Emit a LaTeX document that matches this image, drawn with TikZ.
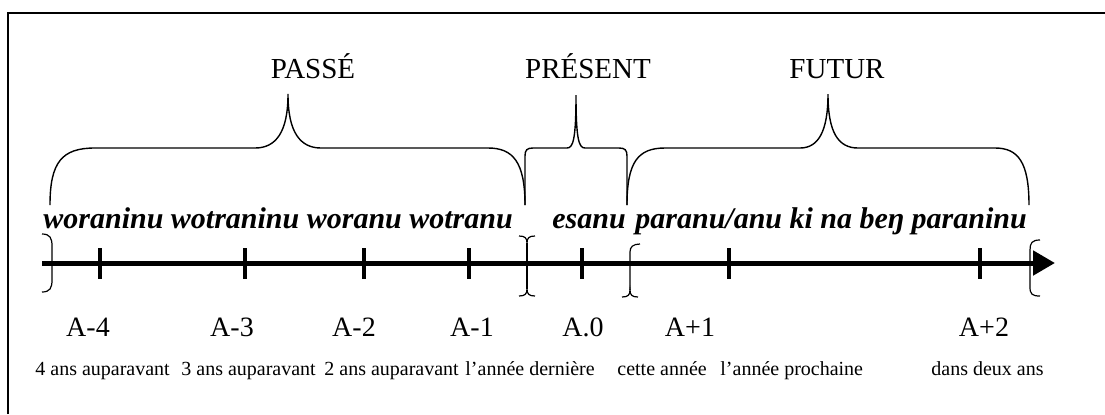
\documentclass[tikz,border=0pt]{standalone}
\usepackage{fontspec}
\setmainfont{Liberation Serif}
\usetikzlibrary{arrows.meta}
\begin{document}
\begin{tikzpicture}[x=0.5pt,y=-0.5pt,
	brace/.style={line width=0.7pt},
	bracket/.style={line width=0.6pt},
	tickmark/.style={line width=2pt},
	period/.style={font=\fontsize{14.5}{16}\selectfont, anchor=base},
	word/.style={font=\fontsize{15}{17}\selectfont\bfseries\itshape, anchor=base west, inner sep=0pt},
	year/.style={font=\fontsize{14}{16}\selectfont, anchor=base},
	gloss/.style={font=\fontsize{10}{12}\selectfont, anchor=base west, inner sep=0pt}]
		\useasboundingbox (0,0) rectangle (1105,414);
		\draw[line width=1.2pt] (8,414) -- (8,13) -- (1105,13);

		\node[period] (past) at (313,78) {PASSÉ};
		\node[period] (present) at (588,78) {PRÉSENT};
		\node[period] (future) at (837,78) {FUTUR};

		\draw[brace] (50,205) .. controls (50,162) and (62,148) .. (95,148) -- (255,148) .. controls (276,148) and (288,132) .. (288,94) .. controls (288,132) and (300,148) .. (321,148) -- (488,148) .. controls (513,148) and (525,162) .. (525,205);
		\draw[brace] (525,205) -- (525,156) .. controls (525,150) and (527,148) .. (533,148) -- (567,148) .. controls (573,148) and (576,140) .. (576,95) .. controls (576,140) and (579,148) .. (585,148) -- (619,148) .. controls (625,148) and (627,150) .. (627,156) -- (627,205);
		\draw[brace] (627,205) .. controls (627,162) and (638,148) .. (665,148) -- (800,148) .. controls (818,148) and (828,132) .. (828,94) .. controls (828,132) and (838,148) .. (858,148) -- (995,148) .. controls (1018,148) and (1029,162) .. (1029,205);

		\node[word] (pastwords) at (43,228) {woraninu wotraninu woranu wotranu};
		\node[word] (presentword) at (552,228) {esanu};
		\node[word] (futurewords) at (635,228) {paranu/anu ki na beŋ paraninu};

		\coordinate (start) at (42,263);
		\coordinate (end) at (1055,263);
		\draw[line width=2.5pt, -{Triangle[length=11pt,width=12pt]}] (start) -- (end);

		\draw[tickmark] (100,248) -- (100,279);
		\draw[tickmark] (245,248) -- (245,279);
		\draw[tickmark] (364,248) -- (364,279);
		\draw[tickmark] (469,248) -- (469,279);
		\draw[tickmark] (582,248) -- (582,279);
		\draw[tickmark] (729,248) -- (729,279);
		\draw[tickmark] (980,248) -- (980,279);

		\draw[bracket] (42,234) .. controls (50,234) and (52,238) .. (52,246) -- (52,280) .. controls (52,288) and (50,292) .. (42,292);
		\draw[bracket] (519,236) .. controls (525,236) and (527,238) .. (527,243) .. controls (527,238) and (529,236) .. (535,236);
		\draw[bracket] (527,243) -- (527,289);
		\draw[bracket] (519,296) .. controls (525,296) and (527,294) .. (527,289) .. controls (527,294) and (529,296) .. (535,296);
		\draw[bracket] (640,244) .. controls (633,244) and (630,247) .. (630,252) -- (630,290);
		\draw[bracket] (622,297) .. controls (628,297) and (630,295) .. (630,290) .. controls (630,295) and (632,297) .. (638,297);
		\draw[bracket] (1040,240) .. controls (1032,240) and (1030,243) .. (1030,250) -- (1030,287) .. controls (1030,294) and (1032,296) .. (1040,296);

		\node[year] (am4) at (88,336) {A-4};
		\node[year] (am3) at (232,336) {A-3};
		\node[year] (am2) at (354,336) {A-2};
		\node[year] (am1) at (472,336) {A-1};
		\node[year] (a0) at (583,336) {A.0};
		\node[year] (ap1) at (690,336) {A+1};
		\node[year] (ap2) at (984,336) {A+2};

		\node[gloss] (gm4) at (35,375) {4 ans auparavant};
		\node[gloss] (gm3) at (181,375) {3 ans auparavant};
		\node[gloss] (gm2) at (324,375) {2 ans auparavant};
		\node[gloss] (gm1) at (465,375) {l’année dernière};
		\node[gloss] (g0) at (617,375) {cette année};
		\node[gloss] (gp1) at (720,375) {l’année prochaine};
		\node[gloss] (gp2) at (931,375) {dans deux ans};
	\end{tikzpicture}
\end{document}
